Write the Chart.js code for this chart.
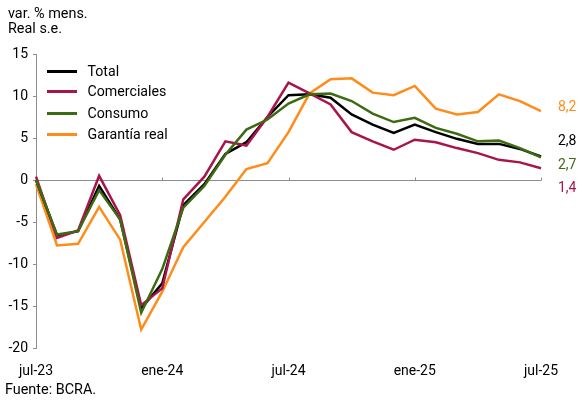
<!DOCTYPE html>
<html>
<head>
<meta charset="utf-8">
<script src="https://cdn.jsdelivr.net/npm/chart.js@4"></script>
<style>
  html, body { margin:0; padding:0; background:#fff; }
  #wrap { position:relative; width:582px; height:404px; font-family: Roboto, "Liberation Sans", sans-serif; color:#000; }
  canvas { position:absolute; left:0; top:0; }
  .t { position:absolute; font-size:14.4px; line-height:16px; white-space:nowrap; }
  .lg { position:absolute; left:47px; font-size:14.2px; white-space:nowrap; }
  .lg span.sw { position:absolute; left:0; top:0; width:30px; height:3px; }
  .lg span.tx { position:absolute; left:40.5px; top:-8px; line-height:18px; }
</style>
</head>
<body>
<div id="wrap">
  <canvas id="c" width="582" height="404"></canvas>
  <div class="t" style="left:8px; top:6px;">var. % mens.</div>
  <div class="t" style="left:8px; top:21px;">Real s.e.</div>
  <div class="t" style="left:5px; top:381.5px;">Fuente: BCRA.</div>
  <div id="legend"></div>
</div>
<script>
const months = ["jul-23","ago-23","sep-23","oct-23","nov-23","dic-23","ene-24","feb-24","mar-24","abr-24","may-24","jun-24",
                "jul-24","ago-24","sep-24","oct-24","nov-24","dic-24","ene-25","feb-25","mar-25","abr-25","may-25","jun-25","jul-25"];
const tickLabels = ["jul-23","ene-24","jul-24","ene-25","jul-25"];
const seriesNames = ["Total","Comerciales","Consumo","Garantía real"];
const total       = [0.0,-6.6,-6.1,-0.7,-4.7,-15.3,-12.3,-3.0,-0.5,3.1,4.5,7.5,10.1,10.2,9.8,7.8,6.6,5.6,6.6,5.7,4.9,4.3,4.3,3.7,2.8];
const comerciales = [0.4,-6.9,-6.0,0.5,-4.2,-14.9,-12.9,-2.3,0.4,4.6,4.1,7.5,11.6,10.3,9.0,5.7,4.6,3.6,4.8,4.5,3.8,3.2,2.4,2.1,1.4];
const consumo     = [0.0,-6.5,-6.1,-1.2,-4.7,-15.8,-10.6,-3.3,-0.7,3.0,6.0,7.2,9.1,10.2,10.3,9.4,7.9,6.9,7.4,6.2,5.5,4.6,4.7,3.8,2.7];
const garantia    = [-0.5,-7.8,-7.6,-3.2,-7.1,-17.8,-13.3,-8.0,-5.0,-2.0,1.3,2.0,5.7,10.3,12.0,12.1,10.4,10.1,11.2,8.5,7.8,8.1,10.2,9.4,8.2];
const endLabels   = ["2,8","1,4","2,7","8,2"];
const yTicks      = [15,10,5,0,-5,-10,-15,-20];

const colors = ["#000000","#A8154B","#3D6B12","#FF8C1A"];
const values = [total, comerciales, consumo, garantia];
// vertical placement of end labels (in data units, to avoid overlap)
const endLabelPos = [4.6, -1.0, 1.7, 8.6];

// legend in HTML
const lg = document.getElementById('legend');
const legendTops = [71, 91.7, 113.3, 134];
seriesNames.forEach((n,i)=>{
  const d = document.createElement('div');
  d.className = 'lg';
  d.style.top = (legendTops[i]-1.5) + 'px';
  d.innerHTML = '<span class="sw" style="background:'+colors[i]+'"></span><span class="tx">'+n+'</span>';
  lg.appendChild(d);
});

const zeroLine = {
  id:'zeroLine',
  beforeDatasetsDraw(chart){
    const {ctx, chartArea:a, scales:{x,y}} = chart;
    const y0 = Math.round(y.getPixelForValue(0)) + 0.5;
    ctx.save();
    ctx.strokeStyle = '#8c8c8c';
    ctx.lineWidth = 1;
    ctx.beginPath();
    ctx.moveTo(a.left, y0); ctx.lineTo(a.right, y0);
    months.forEach((m,i)=>{
      if (i>0 && tickLabels.includes(m)) {
        const px = Math.round(x.getPixelForValue(i)) + 0.5;
        ctx.moveTo(px, y0); ctx.lineTo(px, y0-3);
      }
    });
    ctx.stroke();
    ctx.restore();
  },
  afterDatasetsDraw(chart){
    const {ctx, chartArea:a, scales:{y}} = chart;
    ctx.save();
    ctx.font = '14px Roboto, "Liberation Sans", sans-serif';
    ctx.textBaseline = 'middle';
    ctx.textAlign = 'left';
    endLabels.forEach((t,i)=>{
      ctx.fillStyle = colors[i];
      ctx.fillText(t, a.right + 17, y.getPixelForValue(endLabelPos[i]));
    });
    ctx.restore();
  }
};

new Chart(document.getElementById('c'), {
  type:'line',
  data:{
    labels: months,
    datasets: values.map((v,i)=>({
      label: seriesNames[i],
      data: v,
      borderColor: colors[i],
      backgroundColor: colors[i],
      borderWidth: 2.5,
      pointRadius: 0,
      tension: 0,
      order: [2,1,0,3][i]
    }))
  },
  options:{
    responsive:false,
    animation:false,
    devicePixelRatio:1,
    layout:{ padding:{ top:54, right:41, left:0, bottom:0 } },
    plugins:{ legend:{display:false}, title:{display:false}, tooltip:{enabled:false} },
    scales:{
      x:{
        grid:{ display:false, drawTicks:false },
        border:{ display:false },
        ticks:{
          autoSkip:false, maxRotation:0, padding:15,
          color:'#000',
          font:{ family:'Roboto', size:14 },
          callback(val, idx){ const m = months[idx]; return tickLabels.includes(m) ? m : ''; }
        },
        afterFit(s){ s.height = 56; }
      },
      y:{
        min:-20, max:15,
        afterBuildTicks(s){ s.ticks = yTicks.map(v=>({value:v})); },
        grid:{ display:true, drawOnChartArea:false, drawTicks:true, tickLength:3, color:'#8c8c8c' },
        border:{ display:true, color:'#8c8c8c', width:1 },
        ticks:{ color:'#000', padding:5, font:{ family:'Roboto', size:14 } },
        afterFit(s){ s.width = 36; }
      }
    }
  },
  plugins:[zeroLine]
});
</script>
</body>
</html>
